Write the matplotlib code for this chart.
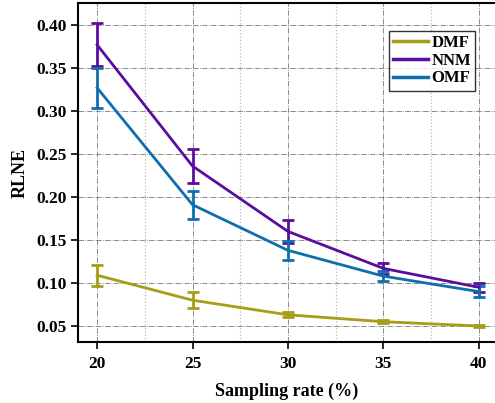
import numpy as np
import matplotlib.pyplot as plt
from matplotlib.ticker import MultipleLocator
from matplotlib.lines import Line2D

# Sampling rate (%)
rates = [20, 25, 30, 35, 40]

# RLNE mean values and error bar half-widths
dmf = [0.109, 0.080, 0.063, 0.055, 0.050]
dmf_err = [0.012, 0.009, 0.003, 0.002, 0.001]

nnm = [0.377, 0.236, 0.160, 0.117, 0.095]
nnm_err = [0.025, 0.020, 0.013, 0.006, 0.005]

omf = [0.327, 0.191, 0.138, 0.108, 0.090]
omf_err = [0.023, 0.016, 0.011, 0.006, 0.0065]

plt.rcParams['font.family'] = ['Liberation Serif', 'DejaVu Serif']
plt.rcParams['font.weight'] = 'bold'

fig = plt.figure(figsize=(4.95, 4.03), dpi=100)
ax = fig.add_axes([78 / 495, 1 - 342 / 403, (495 - 78) / 495, (342 - 3) / 403])

series = [
    ("DMF", dmf, dmf_err, "#a89d17"),
    ("NNM", nnm, nnm_err, "#5b0d9e"),
    ("OMF", omf, omf_err, "#0f6fae"),
]
handles = []
for name, vals, err, col in series:
    ax.errorbar(rates, vals, yerr=err, color=col, lw=2, elinewidth=2,
                capsize=4, capthick=2)
    handles.append(Line2D([], [], color=col, lw=2.5, label=name))

ax.set_xlim(19.0, 40.85)
ax.set_ylim(0.0314, 0.4256)
ax.set_xticks(rates)
ax.xaxis.set_minor_locator(MultipleLocator(2.5))
ax.yaxis.set_major_locator(MultipleLocator(0.05))
ax.yaxis.set_major_formatter(plt.FuncFormatter(lambda v, p: f"{v:.2f}"))
ax.tick_params(axis='both', which='major', direction='out', length=5,
               width=1.2, labelsize=12.5, pad=3)
ax.tick_params(axis='x', which='major', pad=5)
ax.tick_params(axis='x', which='minor', length=0)

ax.grid(True, which='major', color='#777777', linestyle='-.', lw=0.6)
ax.grid(True, which='minor', axis='x', color='#bbbbbb', linestyle=':', lw=0.9)
ax.set_axisbelow(True)

for s in ['top', 'left', 'bottom']:
    ax.spines[s].set_linewidth(1.5)
    ax.spines[s].set_color('black')
ax.spines['right'].set_visible(False)

ax.set_xlabel("Sampling rate (%)", fontsize=13, fontweight='bold', labelpad=8)
ax.set_ylabel("RLNE", fontsize=13, fontweight='bold', labelpad=6)

leg = ax.legend(handles=handles, loc='upper left',
                bbox_to_anchor=((389 - 78) / 417, 1 - (31 - 3) / 339),
                fontsize=12, frameon=True, fancybox=False, edgecolor='black',
                handlelength=2.1, handletextpad=0.2, borderpad=0.25,
                borderaxespad=0, labelspacing=0.1)
leg.get_frame().set_linewidth(1.0)

fig.savefig("out.png", dpi=100)
